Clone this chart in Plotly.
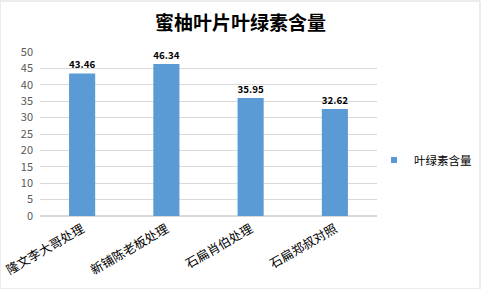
import plotly.graph_objects as go

categories = ["隆文李大哥处理", "新铺陈老板处理", "石扁肖伯处理", "石扁郑叔对照"]
values = [43.46, 46.34, 35.95, 32.62]
series_name = "叶绿素含量"
title_text = "蜜柚叶片叶绿素含量"

font_family = "Microsoft YaHei, Noto Sans CJK SC, sans-serif"
bar_color = "#5b9bd5"

fig = go.Figure()
fig.add_trace(go.Bar(
    x=categories, y=values, name=series_name, showlegend=False,
    marker=dict(color=bar_color, line=dict(width=0)),
    width=0.31,
    text=[f"{v:.2f}" for v in values], textposition="outside",
    textfont=dict(size=12, color="#000000", family=font_family, weight="bold"),
    cliponaxis=False,
))
# legend entry with a small square marker
fig.add_trace(go.Scatter(
    x=[None], y=[None], mode="markers", name=series_name, showlegend=True,
    marker=dict(symbol="square", size=6, color=bar_color),
))

fig.update_layout(
    width=481, height=289,
    margin=dict(l=40, r=104, t=52, b=73, autoexpand=False),
    paper_bgcolor="white", plot_bgcolor="white",
    font=dict(family=font_family),
    title=dict(text="<b>" + title_text + "</b>", x=0.5, xanchor="center",
               y=1 - 23 / 289, yanchor="middle", yref="container",
               font=dict(size=19, color="#000000")),
    showlegend=True,
    legend=dict(xref="container", yref="container", x=374 / 481, y=1 - 160 / 289,
                xanchor="left", yanchor="middle",
                font=dict(size=11.5, color="#000000"),
                itemwidth=30, bgcolor="rgba(0,0,0,0)"),
)
fig.update_yaxes(range=[0, 50], dtick=5, showgrid=True, gridcolor="#d9d9d9",
                 gridwidth=1, zeroline=True, zerolinecolor="#d9d9d9",
                 tickfont=dict(size=11, color="#595959"), ticks="",
                 ticklabelstandoff=6,
                 showline=False, automargin=False)
fig.update_xaxes(tickangle=-30, tickfont=dict(size=12.5, color="#000000"),
                 showline=True, linecolor="#d9d9d9", ticks="", automargin=False)
fig.add_shape(type="rect", xref="paper", yref="paper",
              x0=-40 / 337, x1=(481 - 40 - 1) / 337,
              y0=-73 / 164, y1=(164 + 52 - 1) / 164,
              line=dict(color="#d9d9d9", width=1), fillcolor="rgba(0,0,0,0)")

fig.write_html("out.html")
